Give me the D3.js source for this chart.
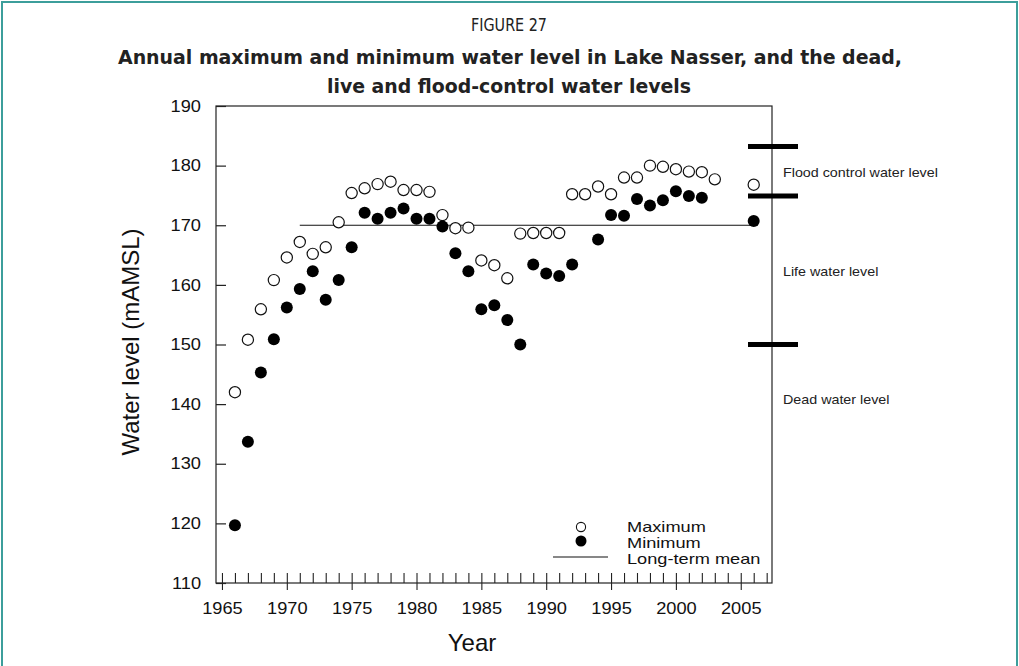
<!DOCTYPE html>
<html lang="en">
<head>
    <meta charset="UTF-8">
    <title>Lake Nasser water levels</title>
    <script src="https://d3js.org/d3.v7.min.js"></script>
    <style>
        body { margin: 0; background: #fff; }
        svg { display: block; font-family: "Liberation Sans", Arial, Helvetica, sans-serif; }
    </style>
</head>
<body>
    <svg width="1019" height="666"></svg>
    <script>

// Annual maximum water level (m AMSL)
const maxYears = [1966, 1967, 1968, 1969, 1970, 1971, 1972, 1973, 1974, 1975, 1976, 1977, 1978,
    1979, 1980, 1981, 1982, 1983, 1984, 1985, 1986, 1987, 1988, 1989, 1990, 1991, 1992, 1993,
    1994, 1995, 1996, 1997, 1998, 1999, 2000, 2001, 2002, 2003, 2006];
const maxLevels = [142.0, 150.8, 155.9, 160.8, 164.6, 167.2, 165.2, 166.3, 170.5, 175.4, 176.2, 176.9, 177.3,
    175.9, 175.9, 175.6, 171.7, 169.5, 169.6, 164.1, 163.3, 161.1, 168.6, 168.7, 168.7, 168.7, 175.2, 175.2,
    176.5, 175.2, 178.0, 178.0, 180.0, 179.8, 179.4, 179.0, 178.9, 177.7, 176.8];

// Annual minimum water level (m AMSL)
const minYears = [1966, 1967, 1968, 1969, 1970, 1971, 1972, 1973, 1974, 1975, 1976, 1977, 1978,
    1979, 1980, 1981, 1982, 1983, 1984, 1985, 1986, 1987, 1988, 1989, 1990, 1991, 1992,
    1994, 1995, 1996, 1997, 1998, 1999, 2000, 2001, 2002, 2006];
const minLevels = [119.7, 133.7, 145.3, 150.9, 156.2, 159.3, 162.3, 157.5, 160.8, 166.3, 172.1, 171.1, 172.1,
    172.8, 171.1, 171.1, 169.8, 165.3, 162.3, 155.9, 156.6, 154.1, 150.0, 163.4, 161.9, 161.5, 163.4,
    167.6, 171.7, 171.6, 174.4, 173.3, 174.2, 175.7, 174.9, 174.6, 170.7];

// Long-term mean
const meanYears = [1971, 2006];
const meanLevel = 170;

// Reservoir zones
const levelMarks = [183.2, 174.9, 150];
const zoneLabels = ["Flood control water level", "Life water level", "Dead water level"];
const zoneLabelLevels = [179.0, 162.4, 140.9];

const legendLabels = ["Maximum", "Minimum", "Long-term mean"];

const yTicks = [110, 120, 130, 140, 150, 160, 170, 180, 190];
const xMajorTicks = [1965, 1970, 1975, 1980, 1985, 1990, 1995, 2000, 2005];
const xMinorTicks = d3.range(1965, 2008);

const svg = d3.select("svg");

// teal page frame
svg.append("rect")
    .attr("x", 2).attr("y", 2)
    .attr("width", 1015).attr("height", 720)
    .attr("fill", "none")
    .attr("stroke", "#3c9e9b")
    .attr("stroke-width", 2);

// titles
const titleFont = "'Liberation Sans Narrow', 'DejaVu Sans Condensed', 'Liberation Sans', sans-serif";
svg.append("text")
    .attr("x", 509).attr("y", 31)
    .attr("text-anchor", "middle")
    .attr("font-family", titleFont)
    .attr("font-size", 18)
    .attr("fill", "#222")
    .attr("textLength", 76).attr("lengthAdjust", "spacingAndGlyphs")
    .text("FIGURE 27");
svg.append("text")
    .attr("x", 510).attr("y", 64)
    .attr("text-anchor", "middle")
    .attr("font-family", titleFont)
    .attr("font-weight", "bold")
    .attr("font-size", 20)
    .attr("fill", "#222")
    .attr("textLength", 784).attr("lengthAdjust", "spacingAndGlyphs")
    .text("Annual maximum and minimum water level in Lake Nasser, and the dead,");
svg.append("text")
    .attr("x", 509).attr("y", 93)
    .attr("text-anchor", "middle")
    .attr("font-family", titleFont)
    .attr("font-weight", "bold")
    .attr("font-size", 20)
    .attr("fill", "#222")
    .attr("textLength", 364).attr("lengthAdjust", "spacingAndGlyphs")
    .text("live and flood-control water levels");

const plotLeft = 216, plotRight = 772, plotTop = 106, plotBottom = 583;
const x = d3.scaleLinear().domain([1964.54, 2007.41]).range([plotLeft, plotRight]);
const y = d3.scaleLinear().domain([110, 190]).range([plotBottom, plotTop]);
const stretch = 1.14;

// plot box
svg.append("rect")
    .attr("x", plotLeft).attr("y", plotTop)
    .attr("width", plotRight - plotLeft).attr("height", plotBottom - plotTop)
    .attr("fill", "none")
    .attr("stroke", "#222")
    .attr("stroke-width", 1.2);

// y axis: ticks inside, labels outside
const yAxis = svg.append("g")
    .attr("transform", `translate(${plotLeft},0)`)
    .call(d3.axisLeft(y).tickValues(yTicks).tickSize(-10).tickPadding(15).tickFormat(d3.format("d")));
yAxis.select(".domain").remove();
yAxis.selectAll("line").attr("stroke", "#222").attr("stroke-width", 1.2);
yAxis.selectAll("text")
    .attr("font-size", 16)
    .attr("fill", "#111")
    .attr("font-family", "'Liberation Sans', Arial, sans-serif")
    .attr("transform", `scale(${stretch},1)`)
    .attr("x", -15 / stretch);

// x axis: yearly ticks pointing up, 5-year ticks crossing the line
const xMinor = svg.append("g")
    .attr("transform", `translate(0,${plotBottom})`)
    .call(d3.axisTop(x).tickValues(xMinorTicks).tickSize(10).tickFormat(""));
xMinor.select(".domain").remove();
xMinor.selectAll("line").attr("stroke", "#222").attr("stroke-width", 1.1);

const xMajor = svg.append("g")
    .attr("transform", `translate(0,${plotBottom})`)
    .call(d3.axisBottom(x).tickValues(xMajorTicks).tickSize(7).tickPadding(13).tickFormat(d3.format("d")));
xMajor.select(".domain").remove();
xMajor.selectAll("line").attr("stroke", "#222").attr("stroke-width", 1.1);
xMajor.selectAll("text")
    .attr("font-size", 16)
    .attr("fill", "#111")
    .attr("font-family", "'Liberation Sans', Arial, sans-serif")
    .attr("transform", `scale(${stretch},1)`);

// axis titles
svg.append("text")
    .attr("x", 472).attr("y", 651)
    .attr("text-anchor", "middle")
    .attr("font-size", 24)
    .attr("fill", "#111")
    .text("Year");
svg.append("text")
    .attr("transform", "translate(139,342) rotate(-90)")
    .attr("text-anchor", "middle")
    .attr("font-size", 24)
    .attr("fill", "#111")
    .text("Water level (mAMSL)");

// long-term mean
svg.append("line")
    .attr("x1", x(meanYears[0])).attr("x2", x(meanYears[1]))
    .attr("y1", y(meanLevel)).attr("y2", y(meanLevel))
    .attr("stroke", "#111")
    .attr("stroke-width", 1.2);

// maximum (open) and minimum (filled)
svg.append("g").selectAll("circle")
    .data(maxYears.map((yr, i) => ({ yr, v: maxLevels[i] })))
    .join("circle")
    .attr("cx", d => x(d.yr))
    .attr("cy", d => y(d.v))
    .attr("r", 5.6)
    .attr("fill", "#fff")
    .attr("stroke", "#111")
    .attr("stroke-width", 1.2);

svg.append("g").selectAll("circle")
    .data(minYears.map((yr, i) => ({ yr, v: minLevels[i] })))
    .join("circle")
    .attr("cx", d => x(d.yr))
    .attr("cy", d => y(d.v))
    .attr("r", 6)
    .attr("fill", "#000");

// zone boundaries on the right
svg.append("g").selectAll("line")
    .data(levelMarks)
    .join("line")
    .attr("x1", 748).attr("x2", 798)
    .attr("y1", d => y(d)).attr("y2", d => y(d))
    .attr("stroke", "#000")
    .attr("stroke-width", 5);

svg.append("g").selectAll("text")
    .data(zoneLabels)
    .join("text")
    .attr("transform", (d, i) => `translate(783,${y(zoneLabelLevels[i]) + 5}) scale(1.1,1)`)
    .attr("font-size", 13)
    .attr("fill", "#222")
    .text(d => d);

// legend
const legend = svg.append("g");
legend.append("circle")
    .attr("cx", 581).attr("cy", 527).attr("r", 4.6)
    .attr("fill", "#fff").attr("stroke", "#111").attr("stroke-width", 1.1);
legend.append("circle")
    .attr("cx", 581).attr("cy", 541).attr("r", 5.5)
    .attr("fill", "#000");
legend.append("line")
    .attr("x1", 553).attr("x2", 608)
    .attr("y1", 557).attr("y2", 557)
    .attr("stroke", "#111").attr("stroke-width", 1.1);
legend.selectAll("text")
    .data(legendLabels)
    .join("text")
    .attr("transform", (d, i) => `translate(627,${532 + i * 16}) scale(1.3,1)`)
    .attr("font-size", 14)
    .attr("fill", "#111")
    .text(d => d);

    </script>
</body>
</html>
